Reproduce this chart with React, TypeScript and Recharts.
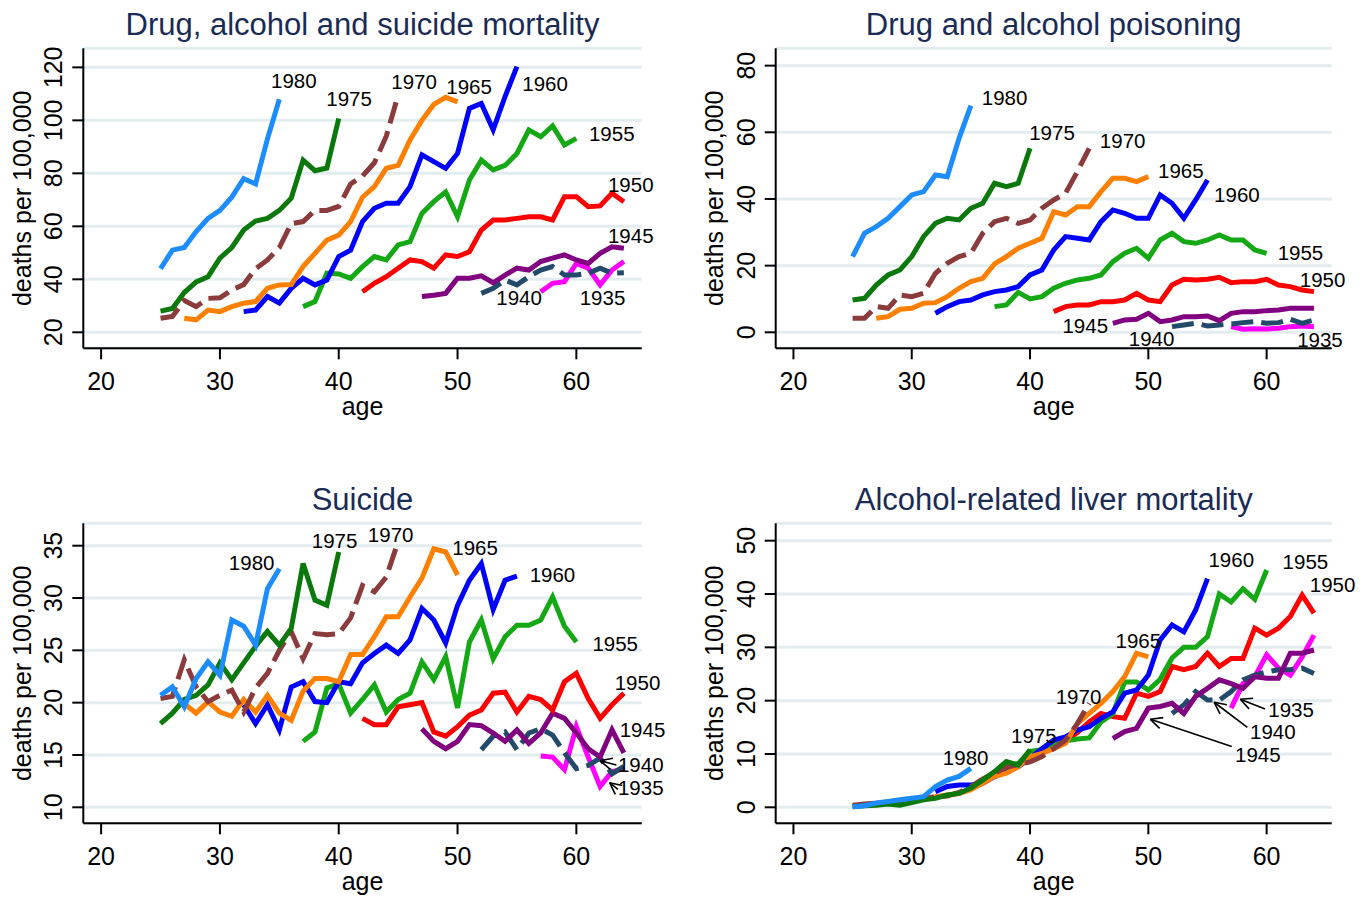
import React from "react";
import {
  LineChart,
  Line,
  XAxis,
  YAxis,
  CartesianGrid,
  ReferenceDot,
  ReferenceLine,
} from "recharts";

// ages on the x axis
const ages = [
  25, 26, 27, 28, 29, 30, 31, 32, 33, 34, 35, 36, 37, 38, 39, 40, 41, 42, 43, 44,
  45, 46, 47, 48, 49, 50, 51, 52, 53, 54, 55, 56, 57, 58, 59, 60, 61, 62, 63, 64,
];

// birth cohorts and the first age observed for each
const cohorts = ["1980", "1975", "1970", "1965", "1960", "1955", "1950", "1945", "1940", "1935"];
const startAges = [25, 25, 25, 27, 32, 37, 42, 47, 52, 57];

// deaths per 100,000, one list per cohort (same order as cohorts)
const drugAlcoholSuicide = [
  [44, 51, 52, 58, 63, 66, 71, 78, 76, 93, 108],
  [28, 29, 35, 39, 41, 48, 52, 58.6, 62, 63, 66, 70.6, 85, 81, 82, 100.7],
  [25.3, 26, 32, 29.7, 32.8, 33, 36, 38, 44, 47.3, 52, 61, 61.8, 66, 66, 67.5, 76, 79, 84, 94, 109.5],
  [25.3, 24.7, 28.4, 27.8, 29.7, 31, 31.6, 36.6, 37.9, 38, 44.8, 49.8, 54.8, 56.7, 61.8, 71, 75, 81.9, 83, 92.6, 100, 106, 108.7, 107],
  [27.8, 28.4, 33.5, 31, 36.6, 40.4, 37.9, 39.7, 48.6, 51, 61.8, 66.8, 68.7, 68.7, 75, 87, 84.4, 81.9, 87.5, 104.5, 106.4, 96.4, 109, 120.3],
  [29.7, 31.6, 42.3, 42, 40.4, 44.8, 48.6, 47.3, 53, 54.2, 64.9, 69.3, 73, 63.6, 77.5, 85, 81.3, 83, 87.5, 96.4, 93.8, 97.9, 90.7, 93.2],
  [35.3, 38.5, 41, 44.2, 47.3, 46.7, 44.2, 49.2, 48.6, 50.4, 58.6, 62.4, 62.4, 63, 63.6, 63.6, 62.4, 71.2, 71.2, 67.4, 67.7, 72.5, 69.3],
  [33.5, 34, 34.7, 40.4, 40.4, 41.3, 38.7, 41.6, 44.2, 43.5, 46.7, 48, 49.2, 47.3, 46, 49.8, 52.3, 51.7],
  [34.7, 36.6, 39.7, 37.9, 41, 43.5, 44.8, 41.6, 41.6, 42.3, 44.2, 42.3, 42.5],
  [35.3, 38.5, 39.1, 46, 44.2, 37.9, 43.5, 46.7],
];

const poisoning = [
  [22.7, 29.7, 31.7, 34.2, 37.7, 41.2, 42.2, 47.2, 46.7, 58.2, 68],
  [9.7, 10.2, 14.2, 17.2, 18.7, 22.7, 28.7, 32.7, 34.2, 33.7, 37.2, 38.7, 44.7, 43.7, 44.7, 55.2],
  [4.2, 4.2, 7.7, 7.2, 11.2, 10.7, 11.7, 17.7, 20.7, 22.7, 23.7, 29.7, 33.2, 34.2, 32.7, 33.7, 37.2, 39.7, 41.7, 48.2, 55.2],
  [4.2, 4.7, 6.9, 7.2, 8.7, 8.9, 10.7, 13.2, 15.2, 16.2, 20.5, 22.7, 25.2, 26.7, 28.2, 36.2, 35.2, 37.7, 37.7, 42.2, 46.2, 46.2, 45.2, 46.7],
  [5.7, 7.7, 9.2, 9.7, 11.2, 12.2, 12.7, 13.7, 17.2, 18.7, 24.7, 28.7, 28.2, 27.7, 33.2, 36.7, 35.7, 34.2, 34.2, 41.2, 38.7, 34.2, 39.7, 45.7],
  [7.7, 8.2, 12, 10, 10.7, 13.2, 14.7, 15.7, 16.2, 17.2, 21.2, 23.7, 25.2, 22.2, 27.7, 29.7, 27.2, 26.7, 27.7, 29.2, 27.7, 27.7, 24.7, 23.7],
  [6.2, 7.7, 8.2, 8.2, 9.2, 9.2, 9.7, 11.7, 9.7, 9.2, 14.2, 15.9, 15.7, 15.9, 16.5, 14.9, 15.2, 15.2, 15.9, 14.2, 13.7, 12.7, 12.2],
  [2.7, 3.7, 3.9, 5.7, 3.2, 3.7, 4.7, 4.7, 4.9, 3.5, 5.7, 6.2, 6.2, 6.5, 6.7, 7.2, 7.2, 7.2],
  [1.7, 2.2, 2.7, 1.9, 2.2, 2.5, 2.9, 3.2, 2.7, 2.9, 3.9, 2.7, 3.7],
  [1.7, 0.9, 1.1, 1.0, 1.2, 1.7, 1.9, 1.7],
];

const suicide = [
  [20.7, 21.5, 19.6, 22.3, 23.9, 22.6, 27.9, 27.3, 25.5, 30.9, 32.8],
  [18, 19, 20.3, 20.7, 21.7, 23.8, 22.2, 23.8, 25.4, 26.8, 25.5, 27.1, 33.3, 29.8, 29.3, 34.4],
  [20.4, 20.6, 24.1, 21.5, 20.1, 20.7, 21.2, 19.1, 21.4, 22.8, 25, 26.8, 24.2, 26.6, 26.5, 26.6, 28.1, 31.2, 30.6, 32, 35.4],
  [19.9, 19, 20.1, 19.1, 18.7, 20.3, 19.1, 20.7, 19, 18.3, 21.1, 22.3, 22.3, 22, 24.6, 24.6, 26.3, 28.2, 28.2, 30.1, 31.9, 34.7, 34.4, 32.2],
  [19.8, 18, 19.8, 17.4, 21.5, 22, 20.1, 20, 22, 21.8, 23.8, 24.7, 25.5, 24.7, 26, 29, 27.9, 25.7, 29.3, 31.7, 33.3, 28.9, 31.7, 32.1],
  [16.3, 17.2, 21.4, 21.8, 19, 20.3, 21.7, 19.1, 20.3, 20.9, 23.9, 22.2, 24.4, 19.5, 25.8, 27.9, 24.2, 26.3, 27.4, 27.4, 27.9, 30.1, 27.3, 25.8],
  [18.5, 17.9, 17.9, 19.6, 19.8, 20, 17.2, 16.8, 17.7, 18.8, 19.3, 20.9, 21, 19.1, 20.6, 20.3, 19.3, 22, 22.8, 20.4, 18.5, 19.8, 20.9],
  [17.5, 16.3, 15.6, 16.3, 17.9, 17.8, 17.1, 16.3, 17.4, 16.1, 17.1, 19, 18.5, 17.1, 15.6, 14.8, 17.4, 15.2],
  [15.5, 16.8, 17.2, 15.5, 17.1, 17.5, 16.9, 15.2, 13.7, 14, 14.7, 13.2, 13.9],
  [14.9, 14.8, 13.6, 17.7, 14.8, 12, 13.4, 13.7],
];

const liver = [
  [0.1, 0.3, 0.8, 1.1, 1.4, 1.7, 2, 3.9, 5.1, 5.8, 7.3],
  [0.1, 0.3, 0.4, 0.6, 0.4, 0.9, 1.4, 1.7, 2.3, 2.6, 3.6, 5.1, 6.7, 8.6, 7.9, 10.8],
  [0.4, 0.6, 0.8, 1.0, 1.2, 1.4, 1.7, 1.9, 2.1, 2.8, 3.9, 5.3, 6.4, 7.5, 8, 8.5, 9.5, 11, 12.6, 15.7, 19.5],
  [0.75, 1.0, 1.3, 1.5, 1.8, 2, 2.3, 2.6, 3.3, 4.5, 5.8, 6.4, 7.6, 9.5, 10.1, 11, 12, 15.7, 17.6, 19.5, 21.7, 24.5, 28.9, 28.2],
  [2.9, 3.9, 4.2, 4.2, 4.5, 5.75, 6.7, 7.6, 9.2, 11, 12.6, 13.2, 14.5, 15.1, 16.7, 17.9, 21.4, 22, 24.8, 31.4, 34.2, 32.9, 37, 42.9],
  [6.5, 7.8, 8.2, 10.5, 10.8, 12, 12.5, 12.8, 13, 16, 17.5, 23.5, 23.5, 22, 24, 28, 30, 30, 32, 40, 38.5, 41, 39, 44.5],
  [11, 12.5, 14, 16, 17.6, 17, 16.7, 21.4, 20.8, 21.7, 26.4, 25.8, 26.4, 28.9, 26.4, 27.9, 27.9, 33.6, 32.3, 33.6, 35.8, 39.8, 36.4],
  [12.9, 14.2, 14.8, 18.6, 18.9, 19.5, 17.6, 20.8, 22.3, 23.9, 23.2, 22.3, 24.5, 24.2, 24.2, 28.9, 28.9, 29.5],
  [17.6, 19.2, 21.7, 20.1, 20.1, 21.7, 23.9, 24.8, 25.4, 25.8, 25.8, 26.1, 25.1],
  [18.6, 23.2, 24.5, 28.6, 26.1, 24.8, 28.2, 32.3],
];

// cohort labels: [text, age, value]
const tagsDAS: [string, number, number][] = [
  ["1980", 34.3, 112.1], ["1975", 38.95, 105.5], ["1970", 44.42, 111.7], ["1965", 49.05, 109.9],
  ["1960", 55.45, 111.2], ["1955", 61.06, 92.3], ["1950", 62.66, 73.1], ["1945", 62.66, 53.6],
  ["1940", 53.26, 30.3], ["1935", 60.28, 30.3],
];
const tagsPoison: [string, number, number][] = [
  ["1980", 35.92, 68.2], ["1975", 39.93, 57.7], ["1970", 45.9, 55.4], ["1965", 50.82, 46.2],
  ["1960", 55.56, 39.2], ["1955", 60.93, 21.7], ["1950", 62.8, 13.7], ["1945", 42.74, -0.3],
  ["1940", 48.35, -4.1], ["1935", 62.58, -4.3],
];
const tagsSuicide: [string, number, number][] = [
  ["1980", 30.75, 32.66], ["1975", 37.73, 34.74], ["1970", 42.45, 35.37], ["1965", 49.56, 34.1],
  ["1960", 56.07, 31.55], ["1955", 61.35, 24.96], ["1950", 63.23, 21.2], ["1945", 63.65, 16.74],
  ["1940", 63.5, 13.4], ["1935", 63.5, 11.17],
];
const tagsLiver: [string, number, number][] = [
  ["1980", 32.63, 7.93], ["1975", 38.39, 12.0], ["1970", 42.17, 19.37], ["1965", 47.23, 29.8],
  ["1960", 55.08, 45], ["1955", 61.35, 44.6], ["1950", 63.65, 40.4], ["1935", 60.14, 17.0],
  ["1940", 58.6, 12.8], ["1945", 57.33, 8.5],
];

// pointer arrows: [fromAge, fromValue, toAge, toValue]
const arrowsSuicide: [number, number, number, number][] = [
  [63.37, 14.04, 62.0, 14.45],
  [63.5, 11.72, 62.8, 12.35],
];
const arrowsLiver: [number, number, number, number][] = [
  [59.87, 18.43, 57.77, 20.25],
  [58.37, 15.0, 55.56, 19.7],
  [57.05, 11.4, 50.17, 16.5],
];

const lineColors = ["#1c8cff", "#0a780a", "#8b3b3b", "#ff8000", "#0000ff", "#14a814", "#ff0000", "#80007f", "#234a6a", "#ff00ff"];
const dashedCohorts = ["1970", "1940"];

const buildRows = (series: number[][]) =>
  ages.map((age) => {
    const row: Record<string, number | null> = { age };
    cohorts.forEach((c, i) => {
      const v = series[i][age - startAges[i]];
      row[c] = v === undefined ? null : v;
    });
    return row;
  });

const VTick = (props: any) => {
  const { x, y, payload } = props;
  return (
    <text x={x} y={y} transform={`rotate(-90 ${x} ${y})`} textAnchor="middle" fontSize={25} fill="#000">
      {payload.value}
    </text>
  );
};

const Arrow = (props: any) => {
  const { x1, y1, x2, y2 } = props;
  const a = Math.atan2(y2 - y1, x2 - x1);
  const len = 13;
  const s = 0.45;
  const h1x = x2 - len * Math.cos(a - s);
  const h1y = y2 - len * Math.sin(a - s);
  const h2x = x2 - len * Math.cos(a + s);
  const h2y = y2 - len * Math.sin(a + s);
  return (
    <g stroke="#000" strokeWidth={1.6} fill="none">
      <line x1={x1} y1={y1} x2={x2} y2={y2} />
      <line x1={x2} y1={y2} x2={h1x} y2={h1y} />
      <line x1={x2} y1={y2} x2={h2x} y2={h2y} />
    </g>
  );
};

type PanelProps = {
  title: string;
  series: number[][];
  yDomain: [number, number];
  yTicks: number[];
  tags: [string, number, number][];
  arrows?: [number, number, number, number][];
  left: number;
  top: number;
  width: number;
  height: number;
  yAxisWidth: number;
  marginTop: number;
  marginRight: number;
  marginBottom: number;
};

const X_AXIS_H = 60;

const Panel = (p: PanelProps) => {
  const rows = buildRows(p.series);
  const plotLeft = p.yAxisWidth;
  const plotRight = p.width - p.marginRight;
  const plotBottom = p.height - p.marginBottom - X_AXIS_H;
  const cx = (plotLeft + plotRight) / 2;
  const cy = (p.marginTop + plotBottom) / 2;
  const order = cohorts.map((c, i) => i).reverse();
  return (
    <div style={{ position: "absolute", left: p.left, top: p.top, width: p.width, height: p.height }}>
      <LineChart
        width={p.width}
        height={p.height}
        data={rows}
        margin={{ top: p.marginTop, right: p.marginRight, bottom: p.marginBottom, left: 0 }}
      >
        <CartesianGrid vertical={false} stroke="#e3ecef" strokeWidth={3} />
        <XAxis
          dataKey="age"
          type="number"
          domain={[18.5, 65.5]}
          ticks={[20, 30, 40, 50, 60]}
          allowDataOverflow
          height={X_AXIS_H}
          tickSize={11}
          tickMargin={13}
          tick={{ fontSize: 25, fill: "#000" }}
          axisLine={{ stroke: "#000", strokeWidth: 2 }}
          tickLine={{ stroke: "#000", strokeWidth: 2 }}
        />
        <YAxis
          type="number"
          domain={p.yDomain}
          ticks={p.yTicks}
          allowDataOverflow
          width={p.yAxisWidth}
          tickSize={11}
          tickMargin={10}
          tick={VTick}
          axisLine={{ stroke: "#000", strokeWidth: 2 }}
          tickLine={{ stroke: "#000", strokeWidth: 2 }}
        />
        {order.map((i) => (
          <Line
            key={cohorts[i]}
            type="linear"
            dataKey={cohorts[i]}
            stroke={lineColors[i]}
            strokeWidth={5}
            strokeDasharray={dashedCohorts.includes(cohorts[i]) ? "22 8" : undefined}
            dot={false}
            activeDot={false}
            isAnimationActive={false}
          />
        ))}
        {p.tags.map(([txt, age, val]) => (
          <ReferenceDot
            key={"t" + txt}
            x={age}
            y={val}
            r={0}
            ifOverflow="visible"
            shape={(sp: any) => (
              <text x={sp.cx} y={sp.cy} fontSize={20.5} fill="#000">
                {txt}
              </text>
            )}
          />
        ))}
        {(p.arrows || []).map(([a1, v1, a2, v2], k) => (
          <ReferenceLine
            key={"a" + k}
            segment={[
              { x: a1, y: v1 },
              { x: a2, y: v2 },
            ]}
            ifOverflow="visible"
            shape={(sp: any) => <Arrow {...sp} />}
          />
        ))}
      </LineChart>
      <svg
        width={p.width}
        height={p.height}
        style={{ position: "absolute", left: 0, top: 0, pointerEvents: "none" }}
      >
        <text x={cx} y={p.marginTop - 13.3} textAnchor="middle" fontSize={31} fill="#1a2b56">
          {p.title}
        </text>
        <text
          x={plotLeft - 52.3}
          y={cy}
          transform={`rotate(-90 ${plotLeft - 52.3} ${cy})`}
          textAnchor="middle"
          fontSize={25}
          fill="#000"
        >
          deaths per 100,000
        </text>
        <text x={cx} y={plotBottom + 67} textAnchor="middle" fontSize={25} fill="#000">
          age
        </text>
      </svg>
    </div>
  );
};

export default function App() {
  return (
    <div
      style={{
        position: "absolute",
        left: 0,
        top: 0,
        width: 1368,
        height: 898,
        background: "#fff",
        overflow: "hidden",
        fontFamily: "'Liberation Sans', Arial, sans-serif",
      }}
    >
      <Panel
        title="Drug, alcohol and suicide mortality"
        series={drugAlcoholSuicide}
        yDomain={[13.96, 127.2]}
        yTicks={[20, 40, 60, 80, 100, 120]}
        tags={tagsDAS}
        left={0}
        top={0}
        width={680}
        height={440}
        yAxisWidth={83.3}
        marginTop={48.3}
        marginRight={38.3}
        marginBottom={31.7}
      />
      <Panel
        title="Drug and alcohol poisoning"
        series={poisoning}
        yDomain={[-4.8, 85.2]}
        yTicks={[0, 20, 40, 60, 80]}
        tags={tagsPoison}
        left={690}
        top={0}
        width={678}
        height={440}
        yAxisWidth={85.7}
        marginTop={48.3}
        marginRight={36.3}
        marginBottom={31.7}
      />
      <Panel
        title="Suicide"
        series={suicide}
        yDomain={[8.47, 37.14]}
        yTicks={[10, 15, 20, 25, 30, 35]}
        tags={tagsSuicide}
        arrows={arrowsSuicide}
        left={0}
        top={470}
        width={680}
        height={428}
        yAxisWidth={83.3}
        marginTop={53.3}
        marginRight={38.3}
        marginBottom={14.7}
      />
      <Panel
        title="Alcohol-related liver mortality"
        series={liver}
        yDomain={[-3.0, 53.26]}
        yTicks={[0, 10, 20, 30, 40, 50]}
        tags={tagsLiver}
        arrows={arrowsLiver}
        left={690}
        top={470}
        width={678}
        height={428}
        yAxisWidth={85.7}
        marginTop={53.3}
        marginRight={36.3}
        marginBottom={14.7}
      />
    </div>
  );
}
